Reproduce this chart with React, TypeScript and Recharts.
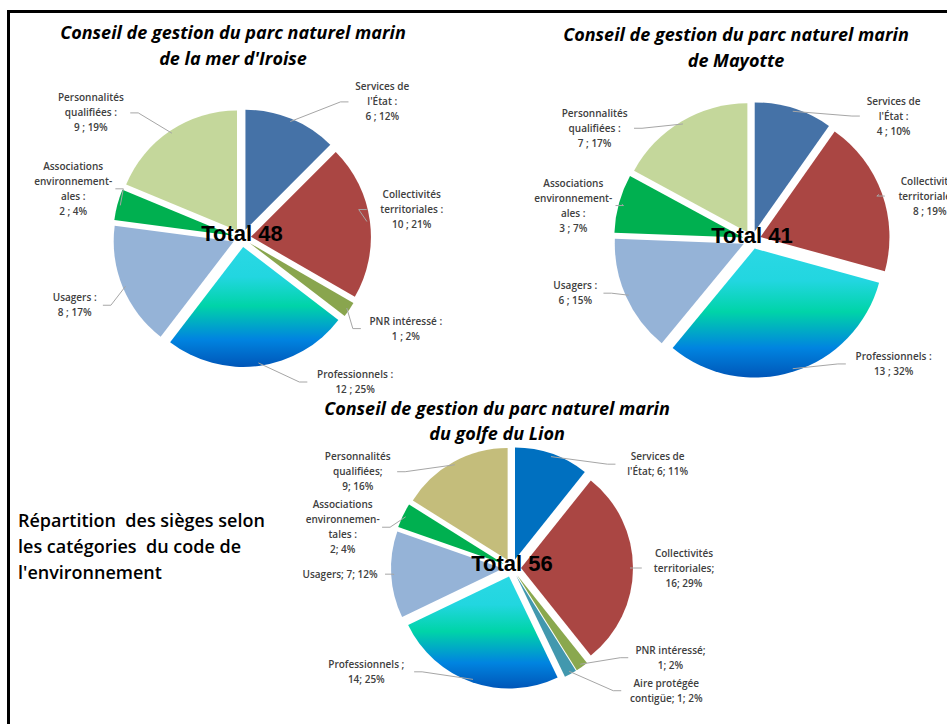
import React from "react";
import { PieChart, Pie, Sector } from "recharts";

const RADIAN = Math.PI / 180;

// Parc naturel marin de la mer d'Iroise
const iroiseNames = [
  "Services de l'État",
  "Collectivités territoriales",
  "PNR intéressé",
  "Professionnels",
  "Usagers",
  "Associations environnementales",
  "Personnalités qualifiées",
];
const iroiseValues = [6, 10, 1, 12, 8, 2, 9];
const iroiseLabels = [
  ["Services de", "l'État :", "6 ; 12%"],
  ["Collectivités", "territoriales :", "10 ; 21%"],
  ["PNR intéressé :", "1 ; 2%"],
  ["Professionnels :", "12 ; 25%"],
  ["Usagers :", "8 ; 17%"],
  ["Associations", "environnement-", "ales :", "2 ; 4%"],
  ["Personnalités", "qualifiées :", "9 ; 19%"],
];
const iroiseColors = ["#4572a7", "#aa4643", "#89a54e", "url(#proGrad)", "#95b3d7", "#00b050", "#c4d79b"];

// Parc naturel marin de Mayotte
const mayotteNames = [
  "Services de l'État",
  "Collectivités territoriales",
  "Professionnels",
  "Usagers",
  "Associations environnementales",
  "Personnalités qualifiées",
];
const mayotteValues = [4, 8, 13, 6, 3, 7];
const mayotteLabels = [
  ["Services de", "l'État :", "4 ; 10%"],
  ["Collectivités", "territoriales :", "8 ; 19%"],
  ["Professionnels :", "13 ; 32%"],
  ["Usagers :", "6 ; 15%"],
  ["Associations", "environnement-", "ales :", "3 ; 7%"],
  ["Personnalités", "qualifiées :", "7 ; 17%"],
];
const mayotteColors = ["#4572a7", "#aa4643", "url(#proGrad)", "#95b3d7", "#00b050", "#c4d79b"];

// Parc naturel marin du golfe du Lion
const lionNames = [
  "Services de l'État",
  "Collectivités territoriales",
  "PNR intéressé",
  "Aire protégée contigüe",
  "Professionnels",
  "Usagers",
  "Associations environnementales",
  "Personnalités qualifiées",
];
const lionValues = [6, 16, 1, 1, 14, 7, 2, 9];
const lionLabels = [
  ["Services de", "l'État; 6; 11%"],
  ["Collectivités", "territoriales;", "16; 29%"],
  ["PNR intéressé;", "1; 2%"],
  ["Aire protégée", "contigüe; 1; 2%"],
  ["Professionnels ;", "14; 25%"],
  ["Usagers; 7; 12%"],
  ["Associations", "environnemen-", "tales :", "2; 4%"],
  ["Personnalités", "qualifiées;", "9; 16%"],
];
const lionColors = ["#0070c0", "#aa4643", "#8aa84e", "#4298ae", "url(#proGrad)", "#95b3d7", "#00b050", "#c4bd7b"];

const labelFont = "'Open Sans', 'Noto Sans', sans-serif";
const LINE_H = 15;

// place the data labels around the pie, then push apart those that collide
function layoutLabels(
  values: number[],
  labels: string[][],
  rx: number,
  ry: number,
  ex: number,
  ey: number
) {
  const total = values.reduce((a, b) => a + b, 0);
  let cum = 0;
  const items = values.map((v, i) => {
    const a = (90 - (360 * (cum + v / 2)) / total) * RADIAN;
    cum += v;
    const ux = Math.cos(a);
    const uy = -Math.sin(a);
    return {
      i,
      right: ux >= 0,
      dx: rx * Math.sign(ux) * Math.pow(Math.abs(ux), ex),
      dy: ry * Math.sign(uy) * Math.pow(Math.abs(uy), ey),
      h: labels[i].length * LINE_H,
    };
  });
  [true, false].forEach((side) => {
    const group = items.filter((it) => it.right === side).sort((a, b) => a.dy - b.dy);
    for (let k = 1; k < group.length; k++) {
      const min = group[k - 1].dy + (group[k - 1].h + group[k].h) / 2 + 3;
      if (group[k].dy < min) group[k].dy = min;
    }
  });
  return items;
}

type ExplodedPieProps = {
  names: string[];
  values: number[];
  labels: string[][];
  colors: string[];
  total: string;
  left: number;
  top: number;
  width: number;
  height: number;
  cx: number;
  cy: number;
  r: number;
  rx: number;
  ry: number;
  ex: number;
  ey: number;
};

function ExplodedPie(props: ExplodedPieProps) {
  const { names, values, labels, colors, total, left, top, width, height, cx, cy, r, rx, ry, ex, ey } = props;
  const explode = 9;
  const data = names.map((name, i) => ({ name, value: values[i] }));
  const spots = layoutLabels(values, labels, rx, ry, ex, ey);

  const renderSlice = (p: any) => {
    const dx = explode * Math.cos(-p.midAngle * RADIAN);
    const dy = explode * Math.sin(-p.midAngle * RADIAN);
    return (
      <Sector
        cx={p.cx + dx}
        cy={p.cy + dy}
        innerRadius={0}
        outerRadius={p.outerRadius}
        startAngle={p.startAngle}
        endAngle={p.endAngle}
        fill={colors[p.index]}
        stroke="none"
      />
    );
  };

  const renderText = (p: any) => {
    const ux = Math.cos(-p.midAngle * RADIAN);
    const uy = Math.sin(-p.midAngle * RADIAN);
    const spot = spots[p.index];
    const lx = p.cx + spot.dx;
    const ly = p.cy + spot.dy;
    const lines = labels[p.index];
    const half = Math.max(...lines.map((l) => l.length)) * 2.8;
    const side = spot.right ? -1 : 1;
    const edgeX = lx + side * (half + 3);
    const sx = p.cx + (p.outerRadius + explode - 3) * ux;
    const sy = p.cy + (p.outerRadius + explode - 3) * uy;
    return (
      <g>
        <polyline
          points={`${sx},${sy} ${edgeX + side * 8},${ly} ${edgeX},${ly}`}
          fill="none"
          stroke="#a6a6a6"
          strokeWidth={1}
        />
        {lines.map((l, i) => (
          <text
            key={i}
            x={lx}
            y={ly + (i - (lines.length - 1) / 2) * LINE_H + 3.5}
            textAnchor="middle"
            fontSize={10}
            fontWeight={600}
            fontFamily={labelFont}
            fill="#404040"
          >
            {l}
          </text>
        ))}
        {p.index === 0 && (
          <text
            x={p.cx}
            y={p.cy + 3}
            textAnchor="middle"
            fontSize={22}
            fontWeight="bold"
            fontFamily="'Liberation Sans', Arial, sans-serif"
            fill="#000"
          >
            {total}
          </text>
        )}
      </g>
    );
  };

  return (
    <div style={{ position: "absolute", left, top, width, height }}>
      <PieChart width={width} height={height}>
        <Pie
          data={data}
          dataKey="value"
          nameKey="name"
          cx={cx}
          cy={cy}
          outerRadius={r}
          startAngle={90}
          endAngle={-270}
          fill="none"
          stroke="none"
          label={renderSlice}
          labelLine={false}
          isAnimationActive={false}
        />
        <Pie
          data={data}
          dataKey="value"
          nameKey="name"
          cx={cx}
          cy={cy}
          outerRadius={r}
          startAngle={90}
          endAngle={-270}
          fill="none"
          stroke="none"
          label={renderText}
          labelLine={false}
          isAnimationActive={false}
        />
      </PieChart>
    </div>
  );
}

const titleStyle: React.CSSProperties = {
  position: "absolute",
  textAlign: "center",
  fontFamily: "'Open Sans', sans-serif",
  fontStyle: "italic",
  fontWeight: 700,
  fontSize: 18,
  lineHeight: "26px",
  color: "#000",
  whiteSpace: "nowrap",
};

export default function App() {
  return (
    <div style={{ position: "absolute", left: 0, top: 0, width: 947, height: 724, overflow: "hidden", background: "#fff" }}>
      <svg width={0} height={0} style={{ position: "absolute" }}>
        <defs>
          <linearGradient id="proGrad" x1="0" y1="0" x2="0" y2="1">
            <stop offset="0%" stopColor="#2ad8e4" />
            <stop offset="25%" stopColor="#22d6e0" />
            <stop offset="49%" stopColor="#00d4a8" />
            <stop offset="77%" stopColor="#0084e0" />
            <stop offset="100%" stopColor="#0056b8" />
          </linearGradient>
        </defs>
      </svg>
      <div
        style={{
          position: "absolute",
          left: 7,
          top: 10,
          width: 1000,
          height: 800,
          borderLeft: "3px solid #000",
          borderTop: "3px solid #000",
        }}
      />

      <ExplodedPie
        names={iroiseNames}
        values={iroiseValues}
        labels={iroiseLabels}
        colors={iroiseColors}
        total="Total 48"
        left={0}
        top={0}
        width={470}
        height={400}
        cx={237}
        cy={233}
        r={120}
        rx={170}
        ry={145}
        ex={0.2}
        ey={0.8}
      />
      <ExplodedPie
        names={mayotteNames}
        values={mayotteValues}
        labels={mayotteLabels}
        colors={mayotteColors}
        total="Total 41"
        left={470}
        top={0}
        width={477}
        height={400}
        cx={277}
        cy={235}
        r={129}
        rx={180}
        ry={130}
        ex={0.2}
        ey={1}
      />
      <ExplodedPie
        names={lionNames}
        values={lionValues}
        labels={lionLabels}
        colors={lionColors}
        total="Total 56"
        left={250}
        top={390}
        width={520}
        height={334}
        cx={257}
        cy={173}
        r={112}
        rx={172}
        ry={110}
        ex={0.15}
        ey={1}
      />

      <div style={{ ...titleStyle, left: 33, width: 400, top: 19 }}>
        Conseil de gestion du parc naturel marin
        <br />
        de la mer d'Iroise
      </div>
      <div style={{ ...titleStyle, left: 536, width: 400, top: 21 }}>
        Conseil de gestion du parc naturel marin
        <br />
        de Mayotte
      </div>
      <div style={{ ...titleStyle, left: 297, width: 400, top: 396, lineHeight: "25px" }}>
        Conseil de gestion du parc naturel marin
        <br />
        du golfe du Lion
      </div>

      <div
        style={{
          position: "absolute",
          left: 18,
          top: 507,
          fontFamily: "'Open Sans', sans-serif",
          fontWeight: 600,
          fontSize: 18,
          lineHeight: "26px",
          color: "#000",
          whiteSpace: "nowrap",
        }}
      >
        Répartition&nbsp; des sièges selon
        <br />
        les catégories&nbsp; du code de
        <br />
        l'environnement
      </div>
    </div>
  );
}
